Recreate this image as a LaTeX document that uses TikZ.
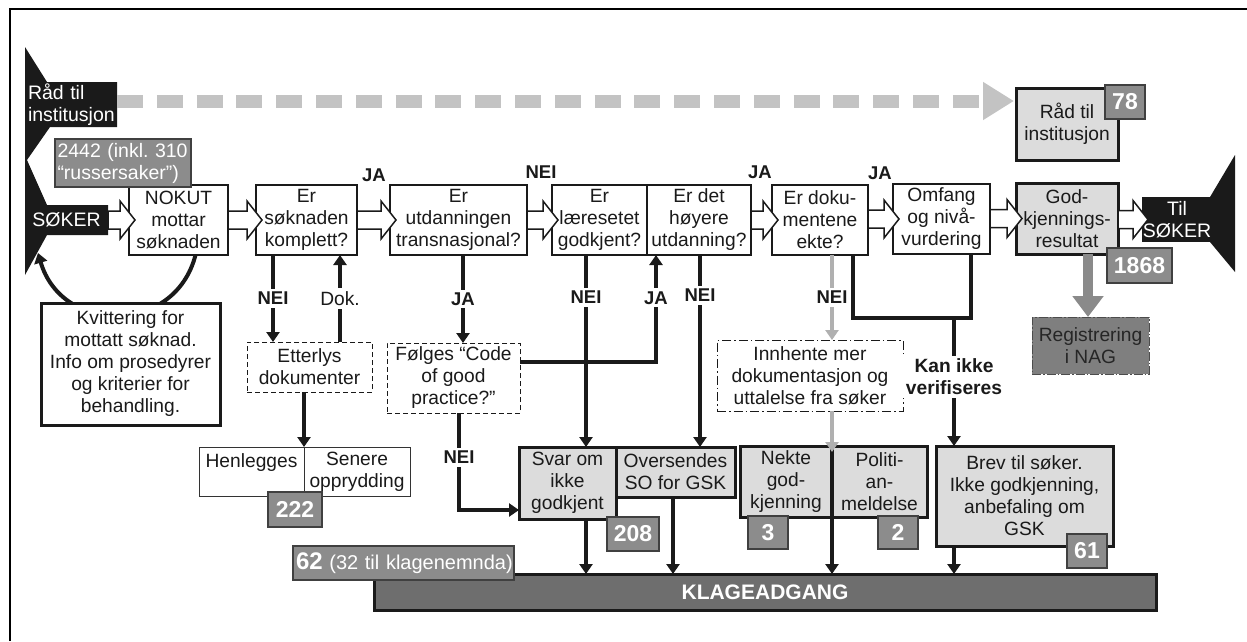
\documentclass[tikz,border=0pt]{standalone}
\usepackage{fontspec}
\setmainfont{Liberation Sans}
\usetikzlibrary{arrows.meta,calc}
\definecolor{ink}{HTML}{1A1A1A}
\definecolor{boxgrey}{HTML}{DCDCDC}
\definecolor{badgegrey}{HTML}{8C8C8C}
\definecolor{bargrey}{HTML}{6E6E6E}
\definecolor{dashgrey}{HTML}{C3C3C3}
\definecolor{neigrey}{HTML}{B0B0B0}
\definecolor{reggrey}{HTML}{7F7F7F}
\definecolor{godgrey}{HTML}{8A8A8A}
\newcommand{\mainfs}{\fontsize{19.2}{22}\selectfont}
\newcommand{\lblfs}{\fontsize{18.5}{22}\selectfont\bfseries}
\newcommand{\badgefs}{\fontsize{23}{26}\selectfont\bfseries}
\newcommand{\blockarr}[2]{\draw[blockarrow] let \p1=(#1.east), \p2=(#2.west) in
  (\x1,\y2+9pt) -- (\x2-9pt,\y2+9pt) -- (\x2-9pt,\y2+19pt) -- (\x2+6pt,\y2) --
  (\x2-9pt,\y2-19pt) -- (\x2-9pt,\y2-9pt) -- (\x1,\y2-9pt) -- cycle;}
\begin{document}
\begin{tikzpicture}[x=1pt,y=-1pt,
  every node/.style={inner sep=0pt, outer sep=0pt, align=center, text=ink, font=\mainfs},
  plainbox/.style={draw=ink, line width=1.5pt, fill=white},
  greybox/.style={draw=ink, line width=3pt, fill=boxgrey},
  thinbox/.style={draw=black!80, line width=1pt, fill=white},
  dashbox/.style={draw=ink, line width=1pt, dash pattern=on 5pt off 3pt, fill=white},
  dotbox/.style={draw=ink, line width=1pt, dash pattern=on 9pt off 3pt on 1.5pt off 3pt, fill=white},
  badge/.style={draw=black!75, line width=1.5pt, fill=badgegrey, text=white, font=\badgefs},
  blk/.style={fill=ink, text=white, font=\fontsize{19.5}{22.5}\selectfont},
  conn/.style={draw=ink, line width=4pt, -{Triangle[length=10pt,width=13pt]}},
  greyconn/.style={draw=neigrey, line width=4pt, -{Triangle[length=10pt,width=13pt]}},
  bracketline/.style={draw=ink, line width=4pt},
  lbl/.style={font=\lblfs, fill=white, inner sep=3pt},
  blockarrow/.style={draw=ink, line width=1.5pt, fill=white, line join=miter},
]
\useasboundingbox (0,0) rectangle (1247,641);
\fill[white] (0,0) rectangle (1247,641);
\draw[line width=2.5pt, black] (10,641) -- (10,9) -- (1247,9);

% column / row helper coordinates
\coordinate (x273) at (273,0); \coordinate (x340) at (340,0);
\coordinate (x463) at (463,0); \coordinate (x459) at (459,0);
\coordinate (x586) at (586,0); \coordinate (x656) at (656,0);
\coordinate (x673) at (673,0); \coordinate (x700) at (700,0);
\coordinate (x832) at (832,0); \coordinate (x853) at (853,0);
\coordinate (x954) at (954,0); \coordinate (x971) at (971,0);
\coordinate (x1088) at (1088,0);
\coordinate (y362) at (0,362); \coordinate (y318) at (0,318); \coordinate (y510) at (0,510);

% left source shape
\fill[ink] (25,47) -- (47,82) -- (117,82) -- (117,127) -- (50,127) -- (27,160) -- (47,205)
  -- (108,205) -- (108,235) -- (47,235) -- (25,275) -- cycle;
\node[blk, text width=86pt, inner xsep=3pt, minimum height=45pt, align=left] (raad) at (71,104.5) {Råd til\\institusjon};
\node[blk, minimum width=83pt, minimum height=30pt] (soker) at (66.5,220) {SØKER};
% right target shape
\fill[ink] (1210,197) -- (1235,155) -- (1235,272) -- (1210,242) -- cycle;
\node[blk, minimum width=70pt, minimum height=45pt] (tilsoker) at (1177,219.5) {Til\\SØKER};

% dashed advice arrow
\coordinate (dA) at (117,101); \coordinate (dB) at (1014,101);
\draw[line width=13pt, dashgrey, dash pattern=on 26pt off 13.8pt, -{Triangle[length=31pt,width=36pt]}] (dA) -- (dB);
\node[greybox, minimum width=102pt, minimum height=72pt] (raad2) at (1067,124) {Råd til\\institusjon};

% main row
\node[plainbox, minimum width=99pt, minimum height=70pt] (nokut) at (178.5,220) {NOKUT\\mottar\\søknaden};
\node[plainbox, minimum width=101pt, minimum height=70pt] (komplett) at (306.5,220) {Er\\søknaden\\komplett?};
\node[plainbox, minimum width=137pt, minimum height=70pt] (trans) at (458.5,220) {Er\\utdanningen\\transnasjonal?};
\node[plainbox, minimum width=95pt, minimum height=70pt] (laer) at (599.5,220) {Er\\læresetet\\godkjent?};
\node[plainbox, minimum width=104pt, minimum height=70pt] (hoy) at (699,220) {Er det\\høyere\\utdanning?};
\node[plainbox, minimum width=96pt, minimum height=70pt] (ekte) at (820,220) {Er doku-\\mentene\\ekte?};
\node[plainbox, minimum width=97pt, minimum height=70pt] (omfang) at (941.5,219) {Omfang\\og nivå-\\vurdering};
\node[greybox, minimum width=102pt, minimum height=71pt] (godkj) at (1067,218.5) {God-\\kjennings-\\resultat};

\blockarr{soker}{nokut}
\blockarr{nokut}{komplett}
\blockarr{komplett}{trans}
\blockarr{trans}{laer}
\blockarr{hoy}{ekte}
\blockarr{ekte}{omfang}
\blockarr{omfang}{godkj}
\blockarr{godkj}{tilsoker}

\node[lbl] (ja1) at (374,175) {JA};
\node[lbl] (nei1) at (541,172) {NEI};
\node[lbl] (ja2) at (760,172) {JA};
\node[lbl] (ja3) at (880,173) {JA};

% receipt loop
\coordinate (sokertip) at (38,253);
\draw[conn] ([xshift=17pt]nokut.south) .. controls (175,335) and (62,335) .. (sokertip);
\node[draw=ink, line width=3pt, fill=white, minimum width=179pt, minimum height=122pt] (kvitt) at (130.5,364)
  {Kvittering for\\mottatt søknad.\\Info om prosedyrer\\og kriterier for\\behandling.};

% lower boxes
\node[dashbox, minimum width=125pt, minimum height=50pt] (etterlys) at (309.5,367) {Etterlys\\dokumenter};
\node[thinbox, minimum width=105pt, minimum height=49pt] (henl) at (251.5,471.5) {Henlegges\\~};
\node[thinbox, minimum width=106pt, minimum height=49pt] (senere) at (357,471.5) {Senere\\opprydding};
\node[dashbox, minimum width=133pt, minimum height=70pt] (foelges) at (453.5,378) {Følges “Code\\of good\\practice?”};
\node[greybox, minimum width=97pt, minimum height=72pt] (svar) at (567.5,483) {Svar om\\ikke\\godkjent};
\node[greybox, minimum width=119pt, minimum height=50pt] (overs) at (675.5,472) {Oversendes\\SO for GSK};
\node[dotbox, minimum width=186pt, minimum height=71pt] (innh) at (810,375.5) {Innhente mer\\dokumentasjon og\\uttalelse fra søker};
\node[greybox, minimum width=92pt, minimum height=71pt] (nekte) at (786,481.5) {Nekte\\god-\\kjenning};
\node[greybox, minimum width=95pt, minimum height=71pt] (politi) at (879.5,481.5) {Politi-\\an-\\meldelse};
\node[greybox, minimum width=177pt, minimum height=100pt] (brev) at (1024.5,496) {Brev til søker.\\Ikke godkjenning,\\anbefaling om\\GSK};
\node[draw=black!70, line width=1pt, dash pattern=on 9pt off 2pt on 1.5pt off 2pt, fill=reggrey, text=black!85,
  minimum width=117pt, minimum height=57pt] (regis) at (1090.5,345.5) {Registrering\\i NAG};
\node[draw=ink, line width=3pt, fill=bargrey, text=white, font=\fontsize{21}{24}\selectfont\bfseries,
  minimum width=782pt, minimum height=36pt] (klage) at (765,592) {KLAGEADGANG};

% connectors
\draw[conn] (komplett.south -| x273) -- node[lbl]{NEI} (etterlys.north -| x273);
\draw[conn] (etterlys.north -| x340) -- node[lbl, font=\mainfs]{Dok.} (komplett.south -| x340);
\draw[conn] (etterlys.south -| henl.north east) -- (henl.north east);
\draw[conn] (trans.south -| x463) -- node[lbl]{JA} (foelges.north -| x463);
\draw[conn] (foelges.east |- y362) -- (x656 |- y362) -- node[lbl, pos=0.6]{JA} (hoy.south -| x656);
\draw[conn] (laer.south -| x586) -- node[lbl, pos=0.22]{NEI} (svar.north -| x586);
\draw[conn] (hoy.south -| x700) -- node[lbl, pos=0.21]{NEI} (overs.north -| x700);
\draw[conn] (foelges.south -| x459) -- node[lbl, pos=0.46]{NEI} (x459 |- y510) -- (svar.west |- y510);
\draw[conn] (nekte.north east) -- (klage.north -| x832);
\draw[greyconn] (ekte.south -| x832) -- node[lbl]{NEI} (innh.north -| x832);
\draw[greyconn] (innh.south -| x832) -- ([yshift=-6pt]nekte.north east);
\draw[bracketline] (ekte.south -| x853) -- (x853 |- y318) -- (x971 |- y318) -- (omfang.south -| x971);
\draw[conn] (x954 |- y318) -- node[lbl, pos=0.46, font=\fontsize{19.2}{22}\selectfont\bfseries]{Kan ikke\\verifiseres} (brev.north -| x954);
\draw[line width=10pt, draw=godgrey, -{Triangle[length=21pt,width=30pt]}] (godkj.south -| x1088) -- (regis.north -| x1088);
\draw[conn] (svar.south -| x586) -- (klage.north -| x586);
\draw[conn] (overs.south -| x673) -- (klage.north -| x673);
\draw[conn] (brev.south -| x954) -- (klage.north -| x954);

% badges
\node[badge, minimum width=40pt, minimum height=34pt] (b78) at (1125,102) {78};
\node[badge, minimum width=65pt, minimum height=35pt] (b1868) at (1139.5,265.5) {1868};
\node[badge, minimum width=54pt, minimum height=35pt] (b222) at (295,509.5) {222};
\node[badge, minimum width=52pt, minimum height=34pt] (b208) at (633,534) {208};
\node[badge, minimum width=40pt, minimum height=33pt] (b3) at (768,532.5) {3};
\node[badge, minimum width=40pt, minimum height=33pt] (b2) at (898,532.5) {2};
\node[badge, minimum width=40pt, minimum height=34pt] (b61) at (1087,551) {61};
\node[badge, text width=131pt, align=left, inner xsep=2.5pt, minimum height=48pt,
  font=\fontsize{19.5}{22}\selectfont] (b2442) at (123,163) {\mbox{2442 (inkl.\ 310}\\\mbox{“russersaker”)}};
\node[badge, text width=215pt, align=left, inner xsep=3pt, minimum height=34pt,
  font=\fontsize{20}{23}\selectfont] (b62) at (403.5,563) {\mbox{{\fontsize{24}{26}\selectfont\bfseries 62} (32 til klagenemnda)}};
\end{tikzpicture}
\end{document}
